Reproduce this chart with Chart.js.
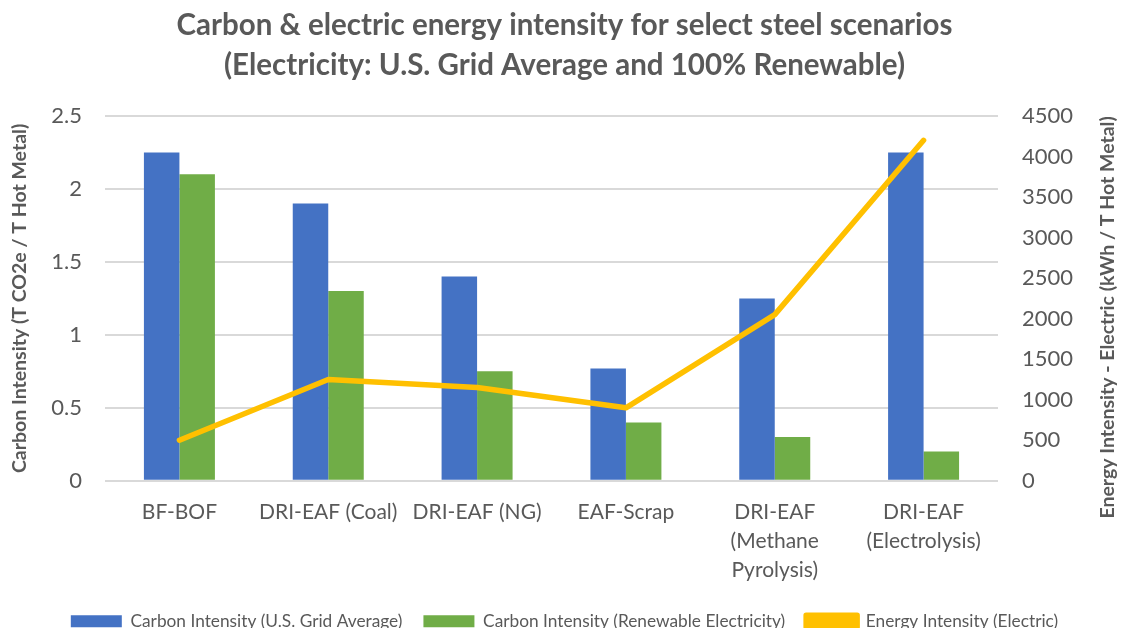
<!DOCTYPE html>
<html><head><meta charset="utf-8">
<script src="https://cdn.jsdelivr.net/npm/chart.js@4/dist/chart.umd.min.js"></script>
<style>html,body{margin:0;padding:0;background:#fff;overflow:hidden}
#wrap{width:1121px;height:640px;position:relative}</style>
</head><body><div id="wrap"><canvas id="c"></canvas></div>
<script>
const categories = [["BF-BOF"],["DRI-EAF (Coal)"],["DRI-EAF (NG)"],["EAF-Scrap"],["DRI-EAF","(Methane","Pyrolysis)"],["DRI-EAF","(Electrolysis)"]];
const carbonGrid = [2.25, 1.9, 1.4, 0.77, 1.25, 2.25];
const carbonRenew = [2.1, 1.3, 0.75, 0.4, 0.3, 0.2];
const energyElectric = [500, 1250, 1150, 900, 2050, 4200];
const leftTicks = [0, 0.5, 1, 1.5, 2, 2.5];
const rightTicks = [0, 500, 1000, 1500, 2000, 2500, 3000, 3500, 4000, 4500];
const titleLines = ["Carbon & electric energy intensity for select steel scenarios","(Electricity: U.S. Grid Average and 100% Renewable)"];
const seriesNames = ["Carbon Intensity (U.S. Grid Average)","Carbon Intensity (Renewable Electricity)","Energy Intensity (Electric)"];
const leftTitle = "Carbon Intensity (T CO2e / T Hot Metal)";
const rightTitle = "Energy Intensity - Electric (kWh / T Hot Metal)";

const FONT = "Lato, 'Open Sans', sans-serif";
const GREY = "#595959";
Chart.defaults.font.family = FONT;
Chart.defaults.color = GREY;

// Right axis title drawn reading bottom-to-top (like the reference)
const rightTitlePlugin = {
  id: 'rightTitle',
  afterDraw(chart) {
    const ctx = chart.ctx, s = chart.scales.y1, ca = chart.chartArea;
    ctx.save();
    ctx.translate(s.right - 13, (ca.top + ca.bottom) / 2 + 19);
    ctx.rotate(-Math.PI / 2);
    ctx.font = "bold 19.5px " + FONT;
    ctx.fillStyle = GREY;
    ctx.textAlign = 'center';
    ctx.textBaseline = 'middle';
    ctx.fillText(rightTitle, 0, 0);
    ctx.restore();
  }
};

new Chart(document.getElementById('c'), {
  data: {
    labels: categories,
    datasets: [
      {type:'bar', label: seriesNames[0], data: carbonGrid, backgroundColor:'#4472C4', yAxisID:'y', order:1,
       categoryPercentage:0.477, barPercentage:1.0, borderWidth:0},
      {type:'bar', label: seriesNames[1], data: carbonRenew, backgroundColor:'#70AD47', yAxisID:'y', order:1,
       categoryPercentage:0.477, barPercentage:1.0, borderWidth:0},
      {type:'line', label: seriesNames[2], data: energyElectric, borderColor:'#FFC000', backgroundColor:'#FFC000',
       borderWidth:5.5, pointRadius:0, tension:0, borderCapStyle:'round', borderJoinStyle:'round', yAxisID:'y1', order:0}
    ]
  },
  plugins: [rightTitlePlugin],
  options: {
    responsive: true, maintainAspectRatio: false, animation: false,
    layout: {padding: {left: 8, right: 0, top: 0, bottom: 0}},
    plugins: {
      title: {display:true, text: titleLines, color: GREY,
        font:{size:29.5, weight:'bold', family: FONT, lineHeight:1.356}, padding:{top:5, bottom:31}},
      legend: {position:'bottom',
        labels:{boxWidth:51, boxHeight:12, padding:21, color:GREY, font:{size:17.3, family:FONT},
          sort:(a,b)=>a.datasetIndex-b.datasetIndex}},
      tooltip:{enabled:false}
    },
    scales: {
      x: {grid:{display:false}, border:{display:false},
          ticks:{color:GREY, font:{size:21, lineHeight:1.38}, padding:9, maxRotation:0, autoSkip:false},
          afterFit: s => { s.height = s.height - 2; }},
      y: {position:'left', min:0, max:2.5,
          afterBuildTicks: ax => { ax.ticks = leftTicks.map(v=>({value:v})); },
          afterFit: s => { s.width = 97; },
          grid:{color:'#d9d9d9', lineWidth:2, drawTicks:false}, border:{display:false},
          ticks:{color:GREY, font:{size:22}, padding:23, callback: v => String(v)},
          title:{display:true, text: leftTitle, color:GREY,
                 font:{size:19.5, weight:'bold'}, padding:{top:0,bottom:8}}},
      y1: {position:'right', min:0, max:4500,
          afterBuildTicks: ax => { ax.ticks = rightTicks.map(v=>({value:v})); },
          afterFit: s => { s.width = 123; },
          grid:{display:false, drawTicks:false}, border:{display:false},
          ticks:{color:GREY, font:{size:22}, padding:24, callback: v => String(v)},
          title:{display:false}}
    }
  }
});
</script></body></html>
